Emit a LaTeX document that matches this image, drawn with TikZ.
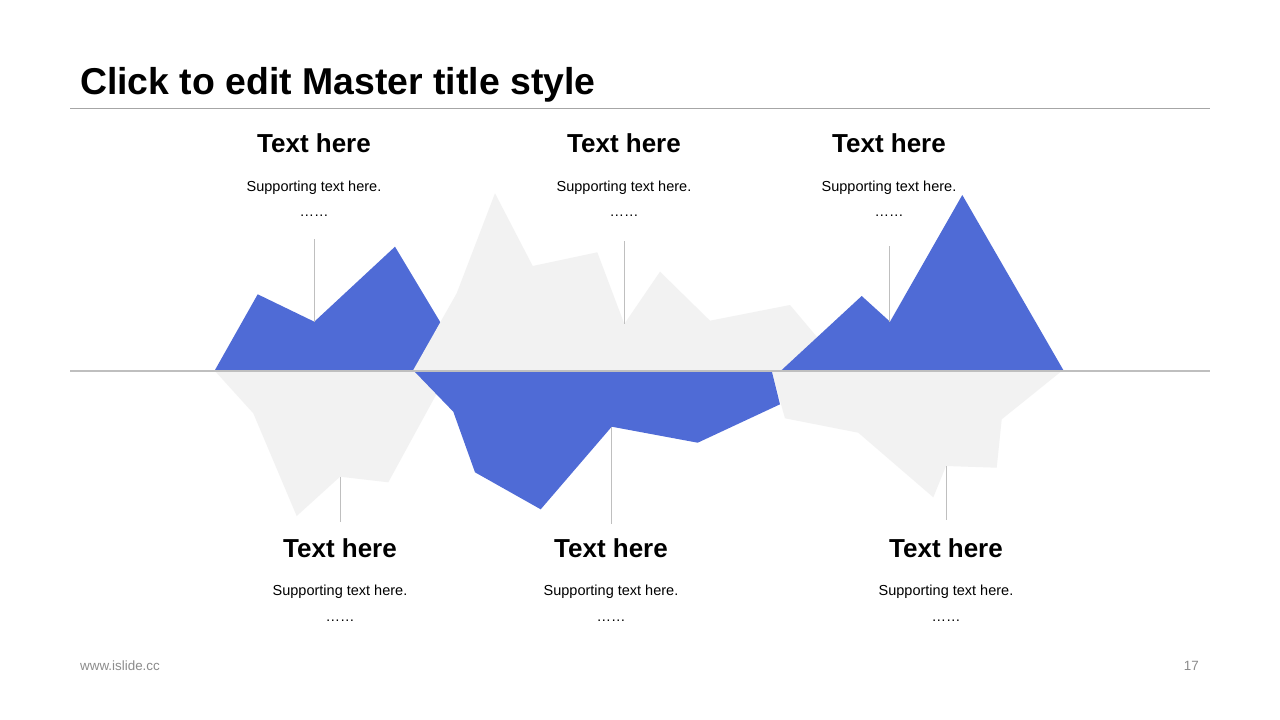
\documentclass[tikz,border=0pt]{standalone}
\usepackage{fontspec}
\setmainfont{Liberation Sans}
\definecolor{peakblue}{HTML}{4F6BD6}
\definecolor{peakgray}{HTML}{F2F2F2}
\definecolor{linegray}{HTML}{BFBFBF}
\definecolor{rulegray}{HTML}{A6A6A6}
\definecolor{footgray}{HTML}{8C8C8C}
\begin{document}
\begin{tikzpicture}[x=1pt,y=-1pt,
  bluepeak/.style={fill=peakblue,draw=none},
  graypeak/.style={fill=peakgray,draw=none},
  leader/.style={draw=linegray,line width=0.9pt},
  headtext/.style={anchor=base,inner sep=0pt,font=\fontsize{26}{30}\selectfont\bfseries},
  subtext/.style={anchor=base,inner sep=0pt,font=\fontsize{14.5}{17}\selectfont},
  dotstext/.style={anchor=base,inner sep=0pt,font=\fontsize{14.5}{17}\selectfont}]
\useasboundingbox[fill=white] (0,0) rectangle (1280,720);

% title
\node[anchor=base west,inner sep=0pt,font=\fontsize{37.4}{44}\selectfont\bfseries] (title) at (80,94) {Click to edit Master title style};
\coordinate (rl) at (70,108);
\coordinate (rr) at (1210,108);
\draw[draw=rulegray,line width=0.9pt] (rl) -- (rr);

% upper peaks
\fill[bluepeak] (215,370) -- (257.7,294.3) -- (314.3,321.7) -- (395,246.7) -- (440,321.7) -- (469,370) -- cycle;
\fill[graypeak] (413.3,370) -- (456.7,293.3) -- (495,193.3) -- (532.7,266) -- (597.3,252.3) -- (624.3,324) -- (660,271.7) -- (710,320.7) -- (790,305) -- (816.7,336.7) -- (845,370) -- cycle;
\fill[bluepeak] (781.7,370) -- (861.7,296) -- (890,321.7) -- (962.3,195) -- (1063.3,370) -- cycle;

% lower peaks
\fill[graypeak] (215,371) -- (253.3,413.3) -- (296.7,516) -- (340,476.7) -- (388.3,482.3) -- (435,396.7) -- (450,371) -- cycle;
\fill[graypeak] (771.7,371) -- (785,418.3) -- (858.3,432.7) -- (933.3,497.3) -- (946,466) -- (996.7,467.7) -- (1001.7,419.3) -- (1061.7,371) -- cycle;
\fill[bluepeak] (414,371) -- (453.3,411.7) -- (475,472.3) -- (540.7,509.3) -- (611.7,426.7) -- (697.7,442.7) -- (780,404.3) -- (771.7,371) -- cycle;

% baseline
\coordinate (bl) at (70,371);
\coordinate (br) at (1210,371);
\draw[draw=linegray,line width=2.8pt] (bl) -- (br);

% leader lines
\coordinate (u1a) at (314.3,239); \coordinate (u1b) at (314.3,321.7);
\coordinate (u2a) at (624.3,241); \coordinate (u2b) at (624.3,324);
\coordinate (u3a) at (889.5,246); \coordinate (u3b) at (889.5,321.7);
\coordinate (d1a) at (340,476.7); \coordinate (d1b) at (340,522);
\coordinate (d2a) at (611.5,426.7); \coordinate (d2b) at (611.5,524);
\coordinate (d3a) at (946,466); \coordinate (d3b) at (946,520);
\draw[leader] (u1a) -- (u1b);
\draw[leader] (u2a) -- (u2b);
\draw[leader] (u3a) -- (u3b);
\draw[leader] (d1a) -- (d1b);
\draw[leader] (d2a) -- (d2b);
\draw[leader] (d3a) -- (d3b);

% upper texts
\node[headtext] (h1) at (314,152.5) {Text here};
\node[subtext] (s1) at (314,191) {Supporting text here.};
\node[dotstext] (p1) at (314,216) {……};
\node[headtext] (h2) at (624,152.5) {Text here};
\node[subtext] (s2) at (624,191) {Supporting text here.};
\node[dotstext] (p2) at (624,216) {……};
\node[headtext] (h3) at (889,152.5) {Text here};
\node[subtext] (s3) at (889,191) {Supporting text here.};
\node[dotstext] (p3) at (889,216) {……};

% lower texts
\node[headtext] (h4) at (340,557) {Text here};
\node[subtext] (s4) at (340,595.5) {Supporting text here.};
\node[dotstext] (p4) at (340,621) {……};
\node[headtext] (h5) at (611,557) {Text here};
\node[subtext] (s5) at (611,595.5) {Supporting text here.};
\node[dotstext] (p5) at (611,621) {……};
\node[headtext] (h6) at (946,557) {Text here};
\node[subtext] (s6) at (946,595.5) {Supporting text here.};
\node[dotstext] (p6) at (946,621) {……};

% footer
\node[anchor=base west,inner sep=0pt,text=footgray,font=\fontsize{13.4}{15}\selectfont] (web) at (80,670.5) {www.islide.cc};
\node[anchor=base east,inner sep=0pt,text=footgray,font=\fontsize{13.4}{15}\selectfont] (pg) at (1199,670.5) {17};
\end{tikzpicture}
\end{document}
